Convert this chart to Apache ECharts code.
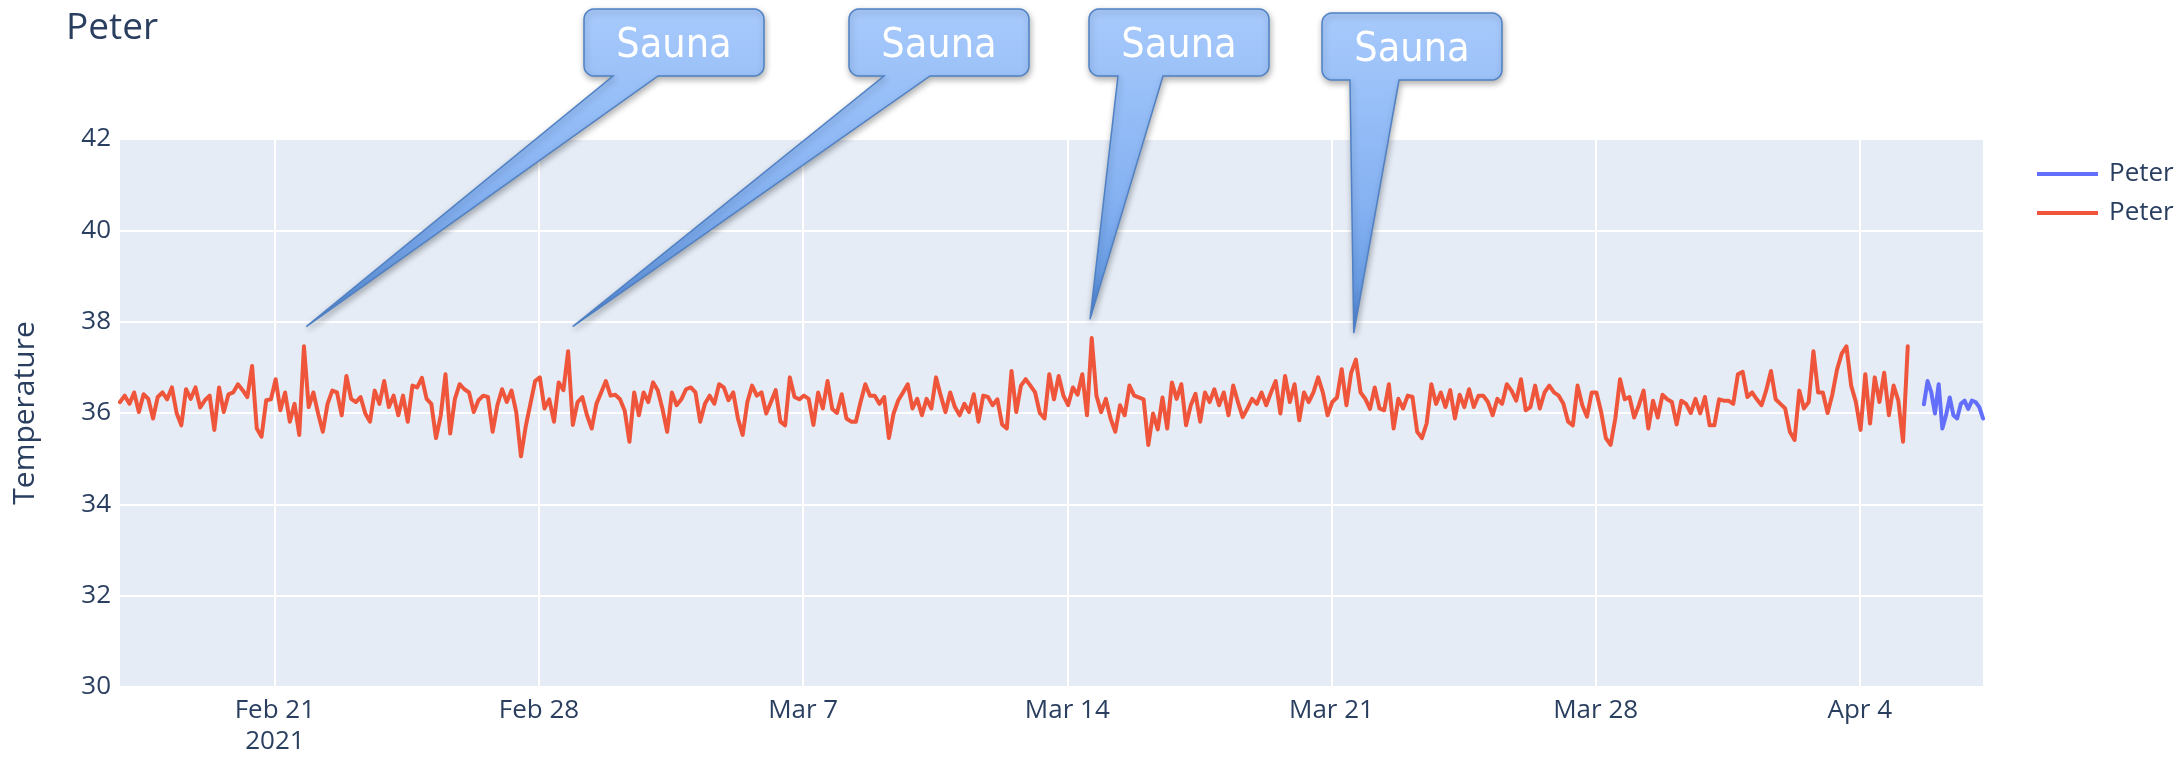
<!DOCTYPE html>
<html>
<head>
<meta charset="utf-8">
<script src="https://cdn.jsdelivr.net/npm/echarts@6/dist/echarts.min.js"></script>
<style>
html,body{margin:0;padding:0;background:#ffffff;}
#chart{width:2183px;height:757px;}
</style>
</head>
<body>
<div id="chart"></div>
<script>
// ---------------- DATA ----------------
const chartTitle = 'Peter';
const yAxisTitle = 'Temperature';
const legendLabels = ['Peter', 'Peter'];

// Red series: readings every 3 hours starting at redStart
const redStart = '2021-02-16T21:30';
const redStepMinutes = 180;
const redValues = [
  36.24,36.38,36.20,36.45,36.02,36.41,36.31,35.88,36.35,36.45,
  36.30,36.56,36.00,35.73,36.52,36.31,36.56,36.12,36.28,36.38,
  35.63,36.56,36.02,36.41,36.45,36.63,36.50,36.35,37.03,35.66,
  35.48,36.28,36.30,36.74,36.06,36.45,35.81,36.20,35.52,37.46,
  36.13,36.45,35.99,35.59,36.20,36.49,36.45,35.95,36.81,36.31,
  36.24,36.35,35.99,35.81,36.49,36.20,36.70,36.13,36.38,35.95,
  36.38,35.81,36.60,36.56,36.77,36.31,36.20,35.45,35.95,36.85,
  35.55,36.31,36.63,36.52,36.45,36.02,36.28,36.38,36.35,35.59,
  36.17,36.52,36.24,36.49,36.02,35.05,35.70,36.20,36.70,36.78,
  36.10,36.30,35.81,36.67,36.50,37.35,35.74,36.24,36.35,35.95,
  35.66,36.20,36.45,36.70,36.38,36.40,36.30,36.05,35.37,36.45,
  35.95,36.45,36.24,36.67,36.50,36.09,35.59,36.45,36.17,36.30,
  36.52,36.56,36.45,35.81,36.20,36.38,36.20,36.63,36.56,36.28,
  36.45,35.88,35.52,36.24,36.60,36.38,36.45,35.99,36.24,36.50,
  35.81,35.73,36.78,36.35,36.30,36.38,36.31,35.74,36.45,36.10,
  36.70,36.09,36.00,36.41,35.88,35.81,35.81,36.24,36.63,36.38,
  36.38,36.20,36.35,35.45,35.99,36.28,36.45,36.63,36.10,36.31,
  35.95,36.31,36.10,36.78,36.38,36.02,36.45,36.13,35.95,36.20,
  36.02,36.41,35.81,36.38,36.35,36.17,36.30,35.75,35.66,36.92,
  36.02,36.60,36.74,36.60,36.45,36.00,35.88,36.85,36.30,36.81,
  36.38,36.17,36.56,36.40,36.85,35.95,37.64,36.38,36.02,36.31,
  35.88,35.59,36.17,35.95,36.60,36.38,36.34,36.30,35.30,35.99,
  35.64,36.34,35.66,36.67,36.31,36.63,35.73,36.17,36.42,35.81,
  36.45,36.24,36.52,36.17,36.45,35.95,36.60,36.24,35.91,36.10,
  36.31,36.20,36.45,36.17,36.45,36.70,35.99,36.81,36.24,36.63,
  35.84,36.45,36.24,36.45,36.78,36.45,35.95,36.24,36.34,36.96,
  36.17,36.88,37.17,36.45,36.31,36.09,36.56,36.10,36.06,36.63,
  35.66,36.31,36.10,36.38,36.35,35.59,35.45,35.77,36.63,36.20,
  36.45,36.13,36.50,35.88,36.40,36.13,36.52,36.13,36.38,36.38,
  36.24,35.95,36.31,36.20,36.63,36.49,36.27,36.74,36.06,36.13,
  36.60,36.10,36.45,36.60,36.45,36.38,36.20,35.81,35.73,36.60,
  36.17,35.92,36.45,36.45,36.02,35.45,35.30,35.88,36.74,36.30,
  36.35,35.90,36.17,36.49,35.66,36.27,35.90,36.40,36.30,36.24,
  35.75,36.27,36.20,36.00,36.31,35.99,36.35,35.73,35.73,36.30,
  36.27,36.27,36.20,36.85,36.90,36.35,36.45,36.30,36.17,36.50,
  36.92,36.30,36.20,36.10,35.59,35.41,36.49,36.10,36.24,37.35,
  36.45,36.45,36.00,36.40,36.95,37.30,37.46,36.60,36.24,35.63,
  36.85,35.77,36.78,36.24,36.88,35.95,36.60,36.27,35.37,37.46
];

// Blue series
const blueStart = '2021-04-05T16:45';
const blueStepMinutes = 141;
const blueValues = [
  36.19,36.70,36.45,35.99,36.63,35.66,35.95,36.34,35.95,35.88,
  36.20,36.27,36.09,36.27,36.24,36.13,35.88
];

// X tick dates and labels
const xTickDates = ['2021-02-21T00:00','2021-02-28T00:00','2021-03-07T00:00','2021-03-14T00:00','2021-03-21T00:00','2021-03-28T00:00','2021-04-04T00:00'];
const xTickLabels = ['Feb 21\n2021','Feb 28','Mar 7','Mar 14','Mar 21','Mar 28','Apr 4'];
const yMin = 30, yMax = 42, yStep = 2;

// Annotations (anchor points in data space)
const saunaTexts = ['Sauna','Sauna','Sauna','Sauna'];
const saunaTipTimes = ['2021-02-21T20:00','2021-02-28T21:25','2021-03-14T14:25','2021-03-21T14:10'];
const saunaTipValues = [37.89, 37.89, 38.05, 37.75];

// ---------------- LAYOUT / STYLE ----------------
const calloutLayout = [
  {left: 584, top: 9,  wedge: [29, 74]},
  {left: 849, top: 9,  wedge: [35, 81]},
  {left: 1089, top: 9, wedge: [29, 74]},
  {left: 1322, top: 13, wedge: [28, 77]}
];
const calloutW = 180, calloutH = 67, calloutR = 10;

const FONT = '"Open Sans", "Noto Sans", sans-serif';
const TXT = '#2a3f5f';

function t(s){ return new Date(s).getTime(); }

const redData = redValues.map((v, i) => [t(redStart) + i * redStepMinutes * 60000, v]);
const blueData = blueValues.map((v, i) => [t(blueStart) + i * blueStepMinutes * 60000, v]);
const xMin = redData[0][0];
const xMax = blueData[blueData.length - 1][0];
const tickVals = xTickDates.map(t);

const chart = echarts.init(document.getElementById('chart'), null, {renderer: 'canvas'});

const option = {
  animation: false,
  backgroundColor: '#ffffff',
  title: {
    text: chartTitle, left: 61, top: 5,
    textStyle: {fontFamily: FONT, fontSize: 37, fontWeight: 'normal', color: TXT}
  },
  legend: {
    orient: 'vertical', left: 2032, top: 156,
    icon: 'rect', itemWidth: 61, itemHeight: 4, itemGap: 13,
    data: ['PeterBlue', 'PeterRed'],
    formatter: function(name){ return name === 'PeterBlue' ? legendLabels[0] : legendLabels[1]; },
    textStyle: {fontFamily: FONT, fontSize: 26, color: TXT, padding: [0,0,0,6]}
  },
  grid: {
    left: 120, right: 200, top: 139, bottom: 61,
    show: true, backgroundColor: '#E5ECF6', borderWidth: 0
  },
  xAxis: {
    type: 'value', min: xMin, max: xMax, scale: true,
    axisLine: {show: false}, axisTick: {show: false, customValues: tickVals},
    splitLine: {show: true, lineStyle: {color: '#ffffff', width: 2}},
    axisLabel: {
      customValues: tickVals,
      fontFamily: FONT, fontSize: 26, color: TXT, margin: 8, lineHeight: 31,
      formatter: function(val){
        const idx = tickVals.indexOf(val);
        return idx >= 0 ? xTickLabels[idx] : '';
      }
    }
  },
  yAxis: {
    type: 'value', min: yMin, max: yMax, interval: yStep,
    name: yAxisTitle, nameLocation: 'middle', nameGap: 80,
    nameTextStyle: {fontFamily: FONT, fontSize: 30, color: TXT},
    axisLine: {show: false}, axisTick: {show: false},
    splitLine: {show: true, lineStyle: {color: '#ffffff', width: 2}},
    axisLabel: {fontFamily: FONT, fontSize: 26, color: TXT, margin: 9}
  },
  series: [
    {
      name: 'PeterBlue', type: 'line', data: blueData, showSymbol: false, symbol: 'none',
      itemStyle: {color: '#636EFA'},
      lineStyle: {color: '#636EFA', width: 4, join: 'round', cap: 'round'}
    },
    {
      name: 'PeterRed', type: 'line', data: redData, showSymbol: false, symbol: 'none',
      itemStyle: {color: '#EF553B'},
      lineStyle: {color: '#EF553B', width: 4, join: 'round', cap: 'round'}
    }
  ]
};
chart.setOption(option);

// rounded-corner arc points
function arcPts(cx, cy, r, a0, a1, out){
  const n = 6;
  for (let k = 0; k <= n; k++){
    const a = a0 + (a1 - a0) * k / n;
    out.push([cx + r * Math.cos(a), cy + r * Math.sin(a)]);
  }
}

// Build callouts anchored to data points
const graphics = [];
saunaTexts.forEach((txt, i) => {
  const tip = chart.convertToPixel({gridIndex: 0}, [t(saunaTipTimes[i]), saunaTipValues[i]]);
  const L = calloutLayout[i];
  const x0 = L.left, y0 = L.top, w = calloutW, h = calloutH, r = calloutR;
  const b1 = x0 + L.wedge[0], b2 = x0 + L.wedge[1];
  const yb = y0 + h;
  const pts = [];
  arcPts(x0 + r, y0 + r, r, Math.PI, 1.5 * Math.PI, pts);          // top-left
  arcPts(x0 + w - r, y0 + r, r, 1.5 * Math.PI, 2 * Math.PI, pts);  // top-right
  arcPts(x0 + w - r, yb - r, r, 0, 0.5 * Math.PI, pts);             // bottom-right
  pts.push([b2, yb]);
  pts.push([tip[0], tip[1]]);
  pts.push([b1, yb]);
  arcPts(x0 + r, yb - r, r, 0.5 * Math.PI, Math.PI, pts);           // bottom-left
  graphics.push({
    type: 'polygon', z: 100, silent: true,
    shape: {points: pts},
    style: {
      fill: {
        type: 'linear', x: 0, y: y0, x2: 0, y2: tip[1], global: true,
        colorStops: [
          {offset: 0, color: '#a8cafc'},
          {offset: 0.3, color: '#96bef7'},
          {offset: 0.6, color: '#86b2f2'},
          {offset: 0.85, color: '#6b9fe8'},
          {offset: 1, color: '#4a84d8'}
        ]
      },
      stroke: '#4f81c4', lineWidth: 1.5, lineJoin: 'miter',
      shadowColor: 'rgba(0,0,0,0.3)', shadowBlur: 6, shadowOffsetX: 1, shadowOffsetY: 3
    }
  });
  graphics.push({
    type: 'text', z: 101, silent: true,
    x: x0 + w / 2, y: y0 + h / 2 + 4,
    style: {
      text: txt, fill: '#ffffff',
      font: '41px "DejaVu Sans Condensed", "DejaVu Sans", Verdana, sans-serif',
      align: 'center', verticalAlign: 'middle'
    }
  });
});
chart.setOption({graphic: graphics});
</script>
</body>
</html>
